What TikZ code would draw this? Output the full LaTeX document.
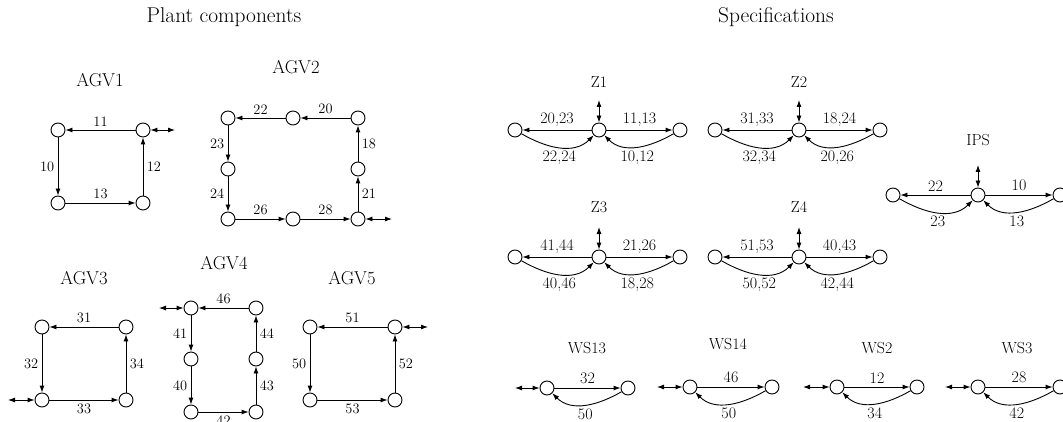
\documentclass[tikz,border=0pt]{standalone}
\usepackage{fontspec}
\usetikzlibrary{positioning,arrows.meta}

\begin{document}
\begin{tikzpicture}[
x=1pt,y=1pt,
on grid,
line width=0.9pt,
>={Latex[length=7pt,width=5pt]},
state/.style={draw,circle,minimum size=14pt,inner sep=0pt},
head/.style={font=\fontsize{21.4}{24}\selectfont},
agv/.style={font=\fontsize{18.6}{22}\selectfont},
spec/.style={font=\fontsize{16}{19}\selectfont},
plbl/.style={font=\fontsize{14.4}{17}\selectfont},
slbl/.style={font=\fontsize{16}{19}\selectfont}
]

\useasboundingbox (0,0) rectangle (1063,421);
\clip (0,0) rectangle (1063,421);

\node[head] (plant) at (224,404) {Plant components};
\node[head] (specs) at (776,404) {Specifications};

% AGV1
\node[agv] (agv1) at (100,341) {AGV1};
\node[state] (a1tl) at (58,291) {};
\node[state] (a1tr) [right=85pt of a1tl] {};
\node[state] (a1bl) [below=73pt of a1tl] {};
\node[state] (a1br) [right=85pt of a1bl] {};
\coordinate[right=32pt of a1tr] (a1in);

\draw[->] (a1tr) -- node[plbl,above] {11} (a1tl);
\draw[->] (a1tl) -- node[plbl,left] {10} (a1bl);
\draw[->] (a1bl) -- node[plbl,above] {13} (a1br);
\draw[->] (a1br) -- node[plbl,right] {12} (a1tr);
\draw[<->] (a1tr) -- (a1in);

% AGV2
\node[agv] (agv2) at (296,354) {AGV2};
\node[state] (a2tl) at (228,303) {};
\node[state] (a2tm) [right=65pt of a2tl] {};
\node[state] (a2tr) [right=65pt of a2tm] {};
\node[state] (a2ml) [below=51pt of a2tl] {};
\node[state] (a2mr) [below=51pt of a2tr] {};
\node[state] (a2bl) [below=50pt of a2ml] {};
\node[state] (a2bm) [right=65pt of a2bl] {};
\node[state] (a2br) [right=65pt of a2bm] {};
\coordinate[right=34pt of a2br] (a2in);

\draw[->] (a2tr) -- node[plbl,above] {20} (a2tm);
\draw[->] (a2tm) -- node[plbl,above] {22} (a2tl);
\draw[->] (a2tl) -- node[plbl,left] {23} (a2ml);
\draw[->] (a2ml) -- node[plbl,left] {24} (a2bl);
\draw[->] (a2bl) -- node[plbl,above] {26} (a2bm);
\draw[->] (a2bm) -- node[plbl,above] {28} (a2br);
\draw[->] (a2br) -- node[plbl,right] {21} (a2mr);
\draw[->] (a2mr) -- node[plbl,right] {18} (a2tr);
\draw[<->] (a2br) -- (a2in);

% AGV3
\node[agv] (agv3) at (84,143) {AGV3};
\node[state] (a3tl) at (42,94) {};
\node[state] (a3tr) [right=84pt of a3tl] {};
\node[state] (a3bl) [below=73pt of a3tl] {};
\node[state] (a3br) [right=84pt of a3bl] {};
\coordinate[left=34pt of a3bl] (a3in);

\draw[->] (a3tr) -- node[plbl,above] {31} (a3tl);
\draw[->] (a3tl) -- node[plbl,left] {32} (a3bl);
\draw[->] (a3bl) -- node[plbl,below] {33} (a3br);
\draw[->] (a3br) -- node[plbl,right] {34} (a3tr);
\draw[<->] (a3bl) -- (a3in);

% AGV4
\node[agv] (agv4) at (224,158) {AGV4};
\node[state] (a4tl) at (191,113) {};
\node[state] (a4tr) [right=65pt of a4tl] {};
\node[state] (a4ml) [below=51pt of a4tl] {};
\node[state] (a4mr) [below=51pt of a4tr] {};
\node[state] (a4bl) [below=53pt of a4ml] {};
\node[state] (a4br) [below=53pt of a4mr] {};
\coordinate[left=32pt of a4tl] (a4in);

\draw[->] (a4tr) -- node[plbl,above] {46} (a4tl);
\draw[->] (a4tl) -- node[plbl,left] {41} (a4ml);
\draw[->] (a4ml) -- node[plbl,left] {40} (a4bl);
\draw[->] (a4bl) -- node[plbl,below] {42} (a4br);
\draw[->] (a4br) -- node[plbl,right] {43} (a4mr);
\draw[->] (a4mr) -- node[plbl,right] {44} (a4tr);
\draw[<->] (a4tl) -- (a4in);

% AGV5
\node[agv] (agv5) at (352,143) {AGV5};
\node[state] (a5tl) at (310,94) {};
\node[state] (a5tr) [right=85pt of a5tl] {};
\node[state] (a5bl) [below=73pt of a5tl] {};
\node[state] (a5br) [right=85pt of a5bl] {};
\coordinate[right=33pt of a5tr] (a5in);

\draw[->] (a5tr) -- node[plbl,above] {51} (a5tl);
\draw[->] (a5tl) -- node[plbl,left] {50} (a5bl);
\draw[->] (a5bl) -- node[plbl,below] {53} (a5br);
\draw[->] (a5br) -- node[plbl,right] {52} (a5tr);
\draw[<->] (a5tr) -- (a5in);

% Z1
\node[state] (z1c) at (599,291) {};
\node[state] (z1l) [left=84pt of z1c] {};
\node[state] (z1r) [right=81pt of z1c] {};
\node[spec] (z1) [above=48pt of z1c] {Z1};
\coordinate[above=30pt of z1c] (z1in);

\draw[->] (z1c) -- node[slbl,above] {20,23} (z1l);
\draw[->] (z1l) to[out=-30,in=-135] node[slbl,below] {22,24} (z1c);
\draw[->] (z1c) -- node[slbl,above] {11,13} (z1r);
\draw[->] (z1r) to[out=-150,in=-45] node[slbl,below] {10,12} (z1c);
\draw[<->] (z1c) -- (z1in);

% Z2
\node[state] (z2c) at (799,291) {};
\node[state] (z2l) [left=84pt of z2c] {};
\node[state] (z2r) [right=81pt of z2c] {};
\node[spec] (z2) [above=48pt of z2c] {Z2};
\coordinate[above=30pt of z2c] (z2in);

\draw[->] (z2c) -- node[slbl,above] {31,33} (z2l);
\draw[->] (z2l) to[out=-30,in=-135] node[slbl,below] {32,34} (z2c);
\draw[->] (z2c) -- node[slbl,above] {18,24} (z2r);
\draw[->] (z2r) to[out=-150,in=-45] node[slbl,below] {20,26} (z2c);
\draw[<->] (z2c) -- (z2in);

% Z3
\node[state] (z3c) at (599,164) {};
\node[state] (z3l) [left=84pt of z3c] {};
\node[state] (z3r) [right=81pt of z3c] {};
\node[spec] (z3) [above=50pt of z3c] {Z3};
\coordinate[above=30pt of z3c] (z3in);

\draw[->] (z3c) -- node[slbl,above] {41,44} (z3l);
\draw[->] (z3l) to[out=-30,in=-135] node[slbl,below] {40,46} (z3c);
\draw[->] (z3c) -- node[slbl,above] {21,26} (z3r);
\draw[->] (z3r) to[out=-150,in=-45] node[slbl,below] {18,28} (z3c);
\draw[<->] (z3c) -- (z3in);

% Z4
\node[state] (z4c) at (799,164) {};
\node[state] (z4l) [left=84pt of z4c] {};
\node[state] (z4r) [right=81pt of z4c] {};
\node[spec] (z4) [above=50pt of z4c] {Z4};
\coordinate[above=30pt of z4c] (z4in);

\draw[->] (z4c) -- node[slbl,above] {51,53} (z4l);
\draw[->] (z4l) to[out=-30,in=-135] node[slbl,below] {50,52} (z4c);
\draw[->] (z4c) -- node[slbl,above] {40,43} (z4r);
\draw[->] (z4r) to[out=-150,in=-45] node[slbl,below] {42,44} (z4c);
\draw[<->] (z4c) -- (z4in);

% IPS
\node[state] (ipsc) at (978,226) {};
\node[state] (ipsl) [left=85pt of ipsc] {};
\node[state] (ipsr) [right=82pt of ipsc] {};
\node[spec] (ips) [above=55pt of ipsc] {IPS};
\coordinate[above=30pt of ipsc] (ipsin);

\draw[->] (ipsc) -- node[slbl,above] {22} (ipsl);
\draw[->] (ipsl) to[out=-30,in=-135] node[slbl,below] {23} (ipsc);
\draw[->] (ipsc) -- node[slbl,above] {10} (ipsr);
\draw[->] (ipsr) to[out=-150,in=-45] node[slbl,below] {13} (ipsc);
\draw[<->] (ipsc) -- (ipsin);

% WS13
\node[spec] (ws13) at (587,73) {WS13};
\node[state] (w13a) at (547,33) {};
\node[state] (w13b) [right=81pt of w13a] {};
\coordinate[left=32pt of w13a] (w13in);

\draw[->] (w13a) -- node[slbl,above] {32} (w13b);
\draw[->] (w13b) to[out=-150,in=-45] node[slbl,below] {50} (w13a);
\draw[<->] (w13a) -- (w13in);

% WS14
\node[spec] (ws14) at (728,77) {WS14};
\node[state] (w14a) at (690,34) {};
\node[state] (w14b) [right=82pt of w14a] {};
\coordinate[left=33pt of w14a] (w14in);

\draw[->] (w14a) -- node[slbl,above] {46} (w14b);
\draw[->] (w14b) to[out=-150,in=-45] node[slbl,below] {50} (w14a);
\draw[<->] (w14a) -- (w14in);

% WS2
\node[spec] (ws2) at (877,73) {WS2};
\node[state] (w2a) at (837,34) {};
\node[state] (w2b) [right=80pt of w2a] {};
\coordinate[left=34pt of w2a] (w2in);

\draw[->] (w2a) -- node[slbl,above] {12} (w2b);
\draw[->] (w2b) to[out=-150,in=-45] node[slbl,below] {34} (w2a);
\draw[<->] (w2a) -- (w2in);

% WS3
\node[spec] (ws3) at (1017,73) {WS3};
\node[state] (w3a) at (978,34) {};
\node[state] (w3b) [right=82pt of w3a] {};
\coordinate[left=33pt of w3a] (w3in);

\draw[->] (w3a) -- node[slbl,above] {28} (w3b);
\draw[->] (w3b) to[out=-150,in=-45] node[slbl,below] {42} (w3a);
\draw[<->] (w3a) -- (w3in);

\end{tikzpicture}
\end{document}
